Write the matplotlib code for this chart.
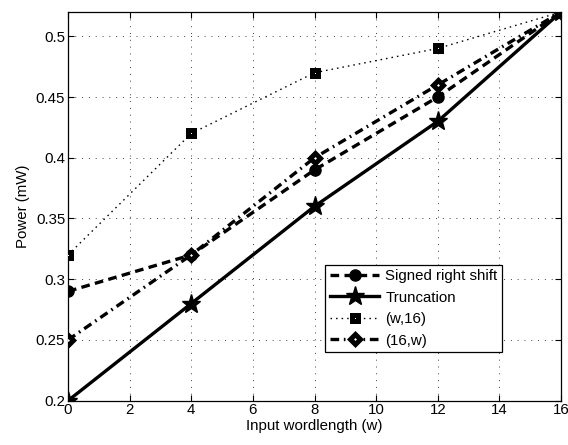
import matplotlib
matplotlib.use("Agg")
import matplotlib.pyplot as plt

# data
wordlength = [0, 4, 8, 12, 16]
signed_shift = [0.29, 0.32, 0.39, 0.45, 0.52]
truncation = [0.20, 0.28, 0.36, 0.43, 0.52]
w_16 = [0.32, 0.42, 0.47, 0.49, 0.52]
p16_w = [0.25, 0.32, 0.40, 0.46, 0.52]

x_ticks = list(range(0, 17, 2))
y_ticks = [0.2, 0.25, 0.3, 0.35, 0.4, 0.45, 0.5]

plt.rcParams['font.family'] = ['Liberation Sans', 'DejaVu Sans']
plt.rcParams['font.size'] = 10.8

fig = plt.figure(figsize=(5.68, 4.45), dpi=100)
ax = fig.add_axes([0.1197, 0.0996, 0.8680, 0.8734])

ax.plot(wordlength, signed_shift, color='black', linestyle=(0, (2.6, 1.6)), linewidth=2.4,
        marker='o', markersize=8, markerfacecolor='black', markeredgewidth=1,
        label='Signed right shift', zorder=4)
ax.plot(wordlength, truncation, color='black', linestyle='-', linewidth=2.4,
        marker='*', markersize=14, markerfacecolor='black', label='Truncation', zorder=5)
ax.plot(wordlength, w_16, color='black', linestyle=(0, (1.1, 2.9)), linewidth=1.0,
        marker='s', markersize=4.8, markerfacecolor='white', markeredgewidth=3.6,
        label='(w,16)', zorder=3)
ax.plot(wordlength, p16_w, color='black', linestyle=(0, (2.6, 1.4, 0.5, 1.4)), linewidth=2.4,
        marker='D', markersize=5.6, markerfacecolor='white', markeredgewidth=3.6,
        label='(16,w)', zorder=4)

ax.set_xlim(0, 16)
ax.set_ylim(0.2, 0.52)
ax.set_xticks(x_ticks)
ax.set_yticks(y_ticks)
ax.set_yticklabels(['0.2', '0.25', '0.3', '0.35', '0.4', '0.45', '0.5'])
ax.tick_params(direction='in', top=True, right=True, length=4, width=0.8, pad=2)
ax.grid(True, color='black', linestyle=(0, (1, 6)), linewidth=0.7, alpha=0.75)
for s in ax.spines.values():
    s.set_linewidth(0.9)

ax.set_xlabel('Input wordlength (w)', labelpad=1)
ax.set_ylabel('Power (mW)', labelpad=4)

leg = ax.legend(loc='upper left', bbox_to_anchor=(0.522, 0.35), fancybox=False,
                edgecolor='black', framealpha=1, handlelength=3.3, borderpad=0.3,
                labelspacing=0.5, handletextpad=0.4, borderaxespad=0)
leg.get_frame().set_linewidth(0.9)

fig.savefig('out.png', dpi=100)
